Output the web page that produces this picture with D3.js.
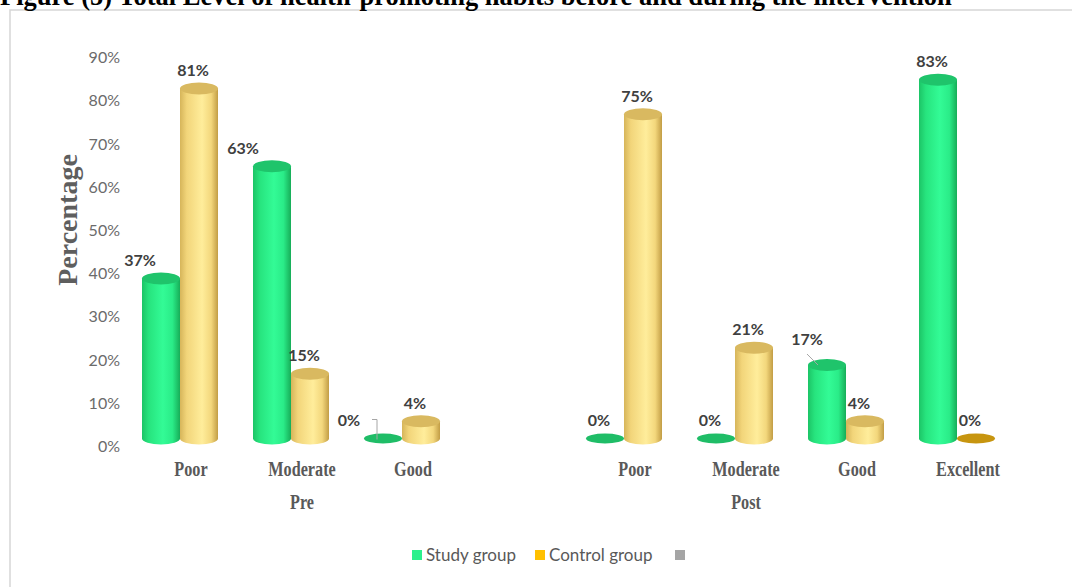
<!DOCTYPE html>
<html>
<head>
<meta charset="utf-8">
<script src="https://cdn.jsdelivr.net/npm/d3@7"></script>
<style>
  html, body { margin: 0; padding: 0; background: #ffffff; }
  svg { display: block; }
</style>
</head>
<body>
<svg id="chart" width="1072" height="587"></svg>
<script>
// ---- data ----
const categories    = ["Poor", "Moderate", "Good", "", "Poor", "Moderate", "Good", "Excellent"];
const periods       = ["Pre", "Pre", "Pre", "Post", "Post", "Post", "Post", "Post"];
const studyValues   = [37, 63, 0, null, 0, 0, 17, 83];
const controlValues = [81, 15, 4, null, 75, 21, 4, 0];
const yTicks        = [0, 10, 20, 30, 40, 50, 60, 70, 80, 90];
const seriesNames   = ["Study group", "Control group", ""];
const titleText     = "Figure (5) Total Level of health-promoting habits before and during the intervention";

// ---- layout ----
const W = 1072, H = 587;
const svg = d3.select("#chart");

const x = d3.scaleBand().domain(d3.range(categories.length)).range([135.5, 1023.5]).padding(0);
const y = d3.scaleLinear().domain([0, 90]).range([446, 57]);

const barW = 38;          // cylinder width
const ry = 6;             // ellipse half-height of cylinder caps
const depth = { dx: -11, dy: -7.5 };   // front-row shift of the 3D floor

// gradients
const defs = svg.append("defs");
function cylGradient(id, stops) {
  const g = defs.append("linearGradient").attr("id", id)
    .attr("x1", "0%").attr("x2", "100%").attr("y1", "0%").attr("y2", "0%");
  stops.forEach(([o, c]) => g.append("stop").attr("offset", o).attr("stop-color", c));
}
cylGradient("gStudy", [["0%", "#1cc466"], ["18%", "#27e47e"], ["55%", "#33fb96"], ["80%", "#2aec88"], ["100%", "#17ad58"]]);
cylGradient("gControl", [["0%", "#d6b55a"], ["18%", "#f2d57a"], ["58%", "#ffed9b"], ["82%", "#f3d77c"], ["100%", "#c29d45"]]);

const series = [
  { key: "study",   values: studyValues,   body: "url(#gStudy)",   cap: "#1fc46b", flat: "#1fbd67", legend: "#2bf08c", offset: -barW },
  { key: "control", values: controlValues, body: "url(#gControl)", cap: "#d9b960", flat: "#c7950f", legend: "#ffc000", offset: 0 }
];

// frame
svg.append("rect")
  .attr("x", 10).attr("y", 10).attr("width", W + 20).attr("height", H + 20)
  .attr("fill", "none").attr("stroke", "#d6d6d6").attr("stroke-width", 1.5);

// title
svg.append("text")
  .attr("x", 0).attr("y", 5)
  .attr("font-family", "Liberation Serif, Times New Roman, serif")
  .attr("font-weight", "bold").attr("font-size", 26.5).attr("fill", "#000")
  .text(titleText);

// y axis (labels only)
const yAxis = d3.axisLeft(y).tickValues(yTicks).tickSize(0).tickPadding(4)
  .tickFormat(d => d + "%");
const yg = svg.append("g").attr("transform", "translate(124,0)").call(yAxis);
yg.select(".domain").remove();
yg.selectAll("text")
  .attr("font-family", "Lato, Open Sans, sans-serif").attr("font-size", 16)
  .attr("fill", "#6b6b6b").attr("dy", "0.35em");

// y axis title
svg.append("text")
  .attr("transform", "translate(77,220) rotate(-90)")
  .attr("text-anchor", "middle")
  .attr("font-family", "Liberation Serif, Times New Roman, serif")
  .attr("font-weight", "bold").attr("font-size", 28).attr("fill", "#5e5e5e")
  .text("Percentage");

// cylinders
const bars = svg.append("g");
series.forEach(s => {
  s.values.forEach((v, i) => {
    if (v === null) return;
    const c = x(i) + x.bandwidth() / 2 + depth.dx;
    const x0 = c + s.offset, x1 = x0 + barW, rx = barW / 2, cx = x0 + rx;
    const yb = y(0) + depth.dy, yt = y(v) + depth.dy;
    if (v === 0) {
      bars.append("ellipse").attr("cx", cx).attr("cy", yb).attr("rx", rx).attr("ry", ry - 1)
        .attr("fill", s.flat);
      return;
    }
    bars.append("path")
      .attr("d", `M${x0},${yt} V${yb} A${rx},${ry} 0 0 0 ${x1},${yb} V${yt} Z`)
      .attr("fill", s.body);
    bars.append("ellipse").attr("cx", cx).attr("cy", yt).attr("rx", rx).attr("ry", ry)
      .attr("fill", s.cap);
  });
});

// data labels (a few were dragged aside in the original layout)
const labelShift = {
  "study|0": [-15, 0], "study|1": [-23, 0], "study|2": [-28, 0], "study|6": [-14, -8]
};
const labels = svg.append("g")
  .attr("font-family", "Lato, Open Sans, sans-serif").attr("font-weight", "bold")
  .attr("font-size", 16).attr("fill", "#404040").attr("text-anchor", "middle");
series.forEach(s => {
  s.values.forEach((v, i) => {
    if (v === null) return;
    const c = x(i) + x.bandwidth() / 2 + depth.dx;
    const cx = c + s.offset + barW / 2;
    const capTop = y(v) + depth.dy - ry;
    const sh = labelShift[s.key + "|" + i] || [0, 0];
    const lx = cx - 6 + sh[0], ly = capTop - 12 + sh[1];
    labels.append("text").attr("x", lx).attr("y", ly).attr("dy", "0.35em").text(v + "%");
  });
});

// leader lines for the moved labels
const leaders = svg.append("g").attr("stroke", "#a6a6a6").attr("stroke-width", 1).attr("fill", "none");
(function () {
  const c = x(2) + x.bandwidth() / 2 + depth.dx;
  const ex = c - barW / 2, ey = y(0) + depth.dy;
  leaders.append("path").attr("d", `M${ex - 11},${ey - 19} H${ex - 6} V${ey + 1}`);
})();
(function () {
  const c = x(6) + x.bandwidth() / 2 + depth.dx;
  const cx = c - barW / 2, ty = y(studyValues[6]) + depth.dy - ry;
  leaders.append("path").attr("d", `M${cx - 20},${ty - 5} L${cx - 9},${ty + 6}`);
})();

// category labels
const catG = svg.append("g")
  .attr("font-family", "Liberation Serif, Times New Roman, serif")
  .attr("font-weight", "bold").attr("font-size", 20).attr("fill", "#595959");
categories.forEach((t, i) => {
  if (!t) return;
  const cx = x(i) + x.bandwidth() / 2;
  catG.append("text")
    .attr("transform", `translate(${cx},476) scale(0.81,1)`)
    .attr("text-anchor", "middle").text(t);
});

// period labels, centred under their groups
d3.groups(d3.range(categories.length), i => periods[i]).forEach(([p, idx]) => {
  const cx = (x(idx[0]) + x(idx[idx.length - 1]) + x.bandwidth()) / 2;
  catG.append("text")
    .attr("transform", `translate(${cx},509) scale(0.81,1)`)
    .attr("text-anchor", "middle").text(p);
});

// legend
const legendItems = [
  { name: seriesNames[0], color: series[0].legend, x: 412 },
  { name: seriesNames[1], color: series[1].legend, x: 535 },
  { name: seriesNames[2], color: "#a5a5a5", x: 675 }
];
const lg = svg.append("g");
legendItems.forEach(d => {
  lg.append("rect").attr("x", d.x).attr("y", 550).attr("width", 10).attr("height", 10).attr("fill", d.color);
  if (d.name) {
    lg.append("text").attr("x", d.x + 14).attr("y", 555).attr("dy", "0.35em")
      .attr("font-family", "Lato, Open Sans, sans-serif").attr("font-size", 17)
      .attr("fill", "#595959").text(d.name);
  }
});
</script>
</body>
</html>
